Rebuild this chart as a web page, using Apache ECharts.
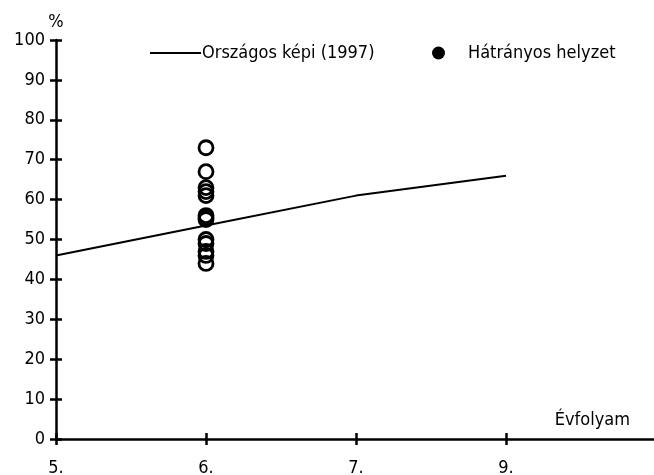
<!DOCTYPE html>
<html><head><meta charset="utf-8">
<script src="https://cdn.jsdelivr.net/npm/echarts@6/dist/echarts.min.js"></script>
<style>html,body{margin:0;padding:0;background:#fff}#c{width:654px;height:475px}</style>
</head><body><div id="c"></div>
<script>
var categories = ['5.', '6.', '7.', '9.', ''];
var lineName = 'Országos képi (1997)';
var lineValues = [46, 53.5, 61, 66, null];
var scatterName = 'Hátrányos helyzet';
var scatterCategory = '6.';
var scatterValues = [73, 67, 63, 62, 61, 56, 55.5, 55, 50, 49, 47, 46, 44];
var yTicks = {min: 0, max: 100, interval: 10};

var FONT = 'DejaVu Sans Condensed';
var FS = 18;
var chart = echarts.init(document.getElementById('c'));
chart.setOption({
  animation: false,
  textStyle: {fontFamily: FONT, color: '#000', fontSize: FS},
  grid: {left: 56, right: -2, top: 40, bottom: 36, outerBoundsMode: 'none', containLabel: false},
  legend: [{
    left: 145, top: 39, itemWidth: 51, itemHeight: 2, itemGap: 0,
    textStyle: {fontFamily: FONT, fontSize: FS, color: '#000', padding: [0, 0, 0, -4]},
    data: [{name: lineName, icon: 'rect', itemStyle: {color: '#000'}}]
  }, {
    left: 427, top: 39, itemWidth: 13, itemHeight: 13,
    textStyle: {fontFamily: FONT, fontSize: FS, color: '#000', padding: [0, 0, 0, 18]},
    data: [{name: scatterName, icon: 'circle', itemStyle: {color: '#000', borderWidth: 0}}]
  }],
  xAxis: [{
    type: 'category', data: categories, boundaryGap: false,
    axisLine: {lineStyle: {color: '#000', width: 2.5}},
    axisTick: {length: 6, lineStyle: {color: '#000', width: 2.5}},
    axisLabel: {fontFamily: FONT, fontSize: FS, color: '#000', margin: 20}
  }, {
    type: 'category', data: categories, boundaryGap: false, position: 'bottom',
    axisLine: {show: false},
    axisTick: {inside: true, length: 6, lineStyle: {color: '#000', width: 2.5}},
    axisLabel: {show: false}
  }],
  yAxis: [{
    type: 'value', min: yTicks.min, max: yTicks.max, interval: yTicks.interval,
    name: '%', nameLocation: 'end', nameGap: 8,
    nameTextStyle: {fontFamily: FONT, fontSize: FS, color: '#000', align: 'center'},
    axisLine: {show: true, lineStyle: {color: '#000', width: 2.5}},
    axisTick: {show: true, length: 6, lineStyle: {color: '#000', width: 2.5}},
    axisLabel: {fontFamily: FONT, fontSize: FS, color: '#000', margin: 11},
    splitLine: {show: false}
  }, {
    type: 'value', min: yTicks.min, max: yTicks.max, interval: yTicks.interval, position: 'left',
    axisLine: {show: false},
    axisTick: {show: true, inside: true, length: 6, lineStyle: {color: '#000', width: 2.5}},
    axisLabel: {show: false},
    splitLine: {show: false}
  }],
  graphic: [{
    type: 'text', right: 24, top: 411,
    style: {text: 'Évfolyam', font: FS + 'px "DejaVu Sans Condensed"', fill: '#000'}
  }],
  series: [{
    name: lineName, type: 'line', data: lineValues, showSymbol: false, symbol: 'none',
    lineStyle: {color: '#000', width: 2}, itemStyle: {color: '#000'}, z: 3
  }, {
    name: scatterName, type: 'scatter', symbol: 'circle', symbolSize: 14,
    data: scatterValues.map(function (v) { return [scatterCategory, v]; }),
    itemStyle: {color: 'rgba(0,0,0,0)', borderColor: '#000', borderWidth: 2.8, opacity: 1}, z: 2
  }]
});
</script></body></html>
